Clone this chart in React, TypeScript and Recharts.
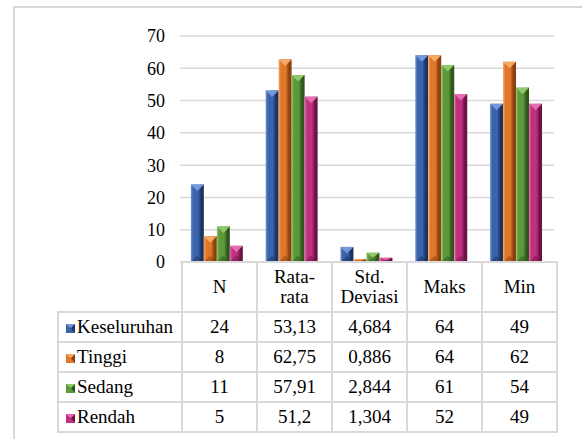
import { BarChart, Bar, XAxis, YAxis, CartesianGrid } from "recharts";

const categories = ["N", "Rata-rata", "Std. Deviasi", "Maks", "Min"];
const headerLabels = ["N", "Rata-\nrata", "Std.\nDeviasi", "Maks", "Min"];
const seriesNames = ["Keseluruhan", "Tinggi", "Sedang", "Rendah"];
const keseluruhan = [24, 53.13, 4.684, 64, 49];
const tinggi = [8, 62.75, 0.886, 64, 62];
const sedang = [11, 57.91, 2.844, 61, 54];
const rendah = [5, 51.2, 1.304, 52, 49];
const yTicks = [0, 10, 20, 30, 40, 50, 60, 70];

const seriesValues = [keseluruhan, tinggi, sedang, rendah];

// base / light / dark shades for the bevelled bars
const PALETTE = [
  { base: "#3b63ab", light: "#7499d9", dark: "#1c3361" },
  { base: "#e0772b", light: "#f6a866", dark: "#8a4110" },
  { base: "#5c993b", light: "#8fc86a", dark: "#30561c" },
  { base: "#c22f80", light: "#e46cb0", dark: "#6b1444" },
];

const FONT = "Liberation Serif";
const GRID = "#d9d9d9";

const data = categories.map((name, i) => ({
  name,
  s0: keseluruhan[i],
  s1: tinggi[i],
  s2: sedang[i],
  s3: rendah[i],
}));

const fmt = (v: number) => String(v).replace(".", ",");

function BevelBar(props: any) {
  const { x, y, width: w, height: h, pal, gid } = props;
  if (!h || h <= 0) return null;
  const d = Math.min(w / 2, h / 2);
  return (
    <g>
      <defs>
        <linearGradient id={gid} x1="0" y1="0" x2="1" y2="0">
          <stop offset="0" stopColor={pal.light} />
          <stop offset="0.18" stopColor={pal.base} />
          <stop offset="0.55" stopColor={pal.base} />
          <stop offset="0.8" stopColor={pal.dark} />
          <stop offset="1" stopColor={pal.dark} />
        </linearGradient>
      </defs>
      <rect x={x} y={y} width={w} height={h} fill={`url(#${gid})`} />
      <polygon
        points={`${x},${y} ${x + w},${y} ${x + w / 2},${y + d}`}
        fill={pal.light}
      />
      <polygon
        points={`${x},${y + h} ${x + w},${y + h} ${x + w / 2},${y + h - d}`}
        fill={pal.dark}
        opacity={0.5}
      />
    </g>
  );
}

function LegendKey({ pal }: { pal: (typeof PALETTE)[number] }) {
  return (
    <svg width={9} height={9} style={{ marginRight: 2, verticalAlign: "0px" }}>
      <rect x={0} y={0} width={9} height={9} fill={pal.base} />
      <polygon points="9,0 9,9 5,4.5" fill={pal.dark} />
      <polygon points="0,0 9,0 4.5,4" fill={pal.light} />
    </svg>
  );
}

export default function App() {
  const cell = {
    border: `2px solid ${GRID}`,
    padding: 0,
    textAlign: "center" as const,
    verticalAlign: "middle" as const,
    lineHeight: "20px",
    whiteSpace: "pre-line" as const,
    fontFamily: FONT,
  };

  return (
    <div
      style={{
        position: "absolute",
        left: 0,
        top: 0,
        width: 582,
        height: 439,
        overflow: "hidden",
        background: "#fff",
        fontFamily: FONT,
      }}
    >
      <div
        style={{
          position: "absolute",
          left: 13,
          top: 6,
          width: 640,
          height: 520,
          border: `2px solid ${GRID}`,
        }}
      />
      <div style={{ position: "absolute", left: 0, top: 0 }}>
        <BarChart
          width={582}
          height={439}
          data={data}
          margin={{ top: 36, right: 28, bottom: 177, left: 120 }}
          barCategoryGap="14.5%"
          barGap={0}
        >
          <CartesianGrid vertical={false} stroke={GRID} strokeWidth={1.5} />
          <XAxis
            dataKey="name"
            height={0}
            tick={false}
            tickLine={false}
            axisLine={{ stroke: GRID, strokeWidth: 2 }}
          />
          <YAxis
            width={60}
            domain={[0, 70]}
            ticks={yTicks}
            axisLine={false}
            tickLine={false}
            tickMargin={9}
            tick={{ fill: "#000", fontSize: 18, fontFamily: FONT }}
          />
          {seriesValues.map((_, si) => (
            <Bar
              key={si}
              dataKey={`s${si}`}
              name={seriesNames[si]}
              fill={PALETTE[si].base}
              isAnimationActive={false}
              shape={(p: any) => (
                <BevelBar {...p} pal={PALETTE[si]} gid={`g${si}-${p.index}`} />
              )}
            />
          ))}
        </BarChart>
      </div>
      <table
        style={{
          position: "absolute",
          left: 57,
          top: 261,
          borderCollapse: "collapse",
          tableLayout: "fixed",
          width: 499,
          fontSize: 19,
          fontFamily: FONT,
          color: "#000",
        }}
      >
        <colgroup>
          <col style={{ width: 124 }} />
          {categories.map((c) => (
            <col key={c} style={{ width: 75 }} />
          ))}
        </colgroup>
        <tbody>
          <tr style={{ height: 50 }}>
            <td style={{ border: "none", padding: 0 }} />
            {headerLabels.map((l) => (
              <td key={l} style={cell}>
                {l}
              </td>
            ))}
          </tr>
          {seriesNames.map((name, si) => (
            <tr key={name} style={{ height: 30 }}>
              <td style={{ ...cell, textAlign: "left", paddingLeft: 7 }}>
                <LegendKey pal={PALETTE[si]} />
                {name}
              </td>
              {seriesValues[si].map((v, ci) => (
                <td key={ci} style={cell}>
                  {fmt(v)}
                </td>
              ))}
            </tr>
          ))}
        </tbody>
      </table>
    </div>
  );
}
